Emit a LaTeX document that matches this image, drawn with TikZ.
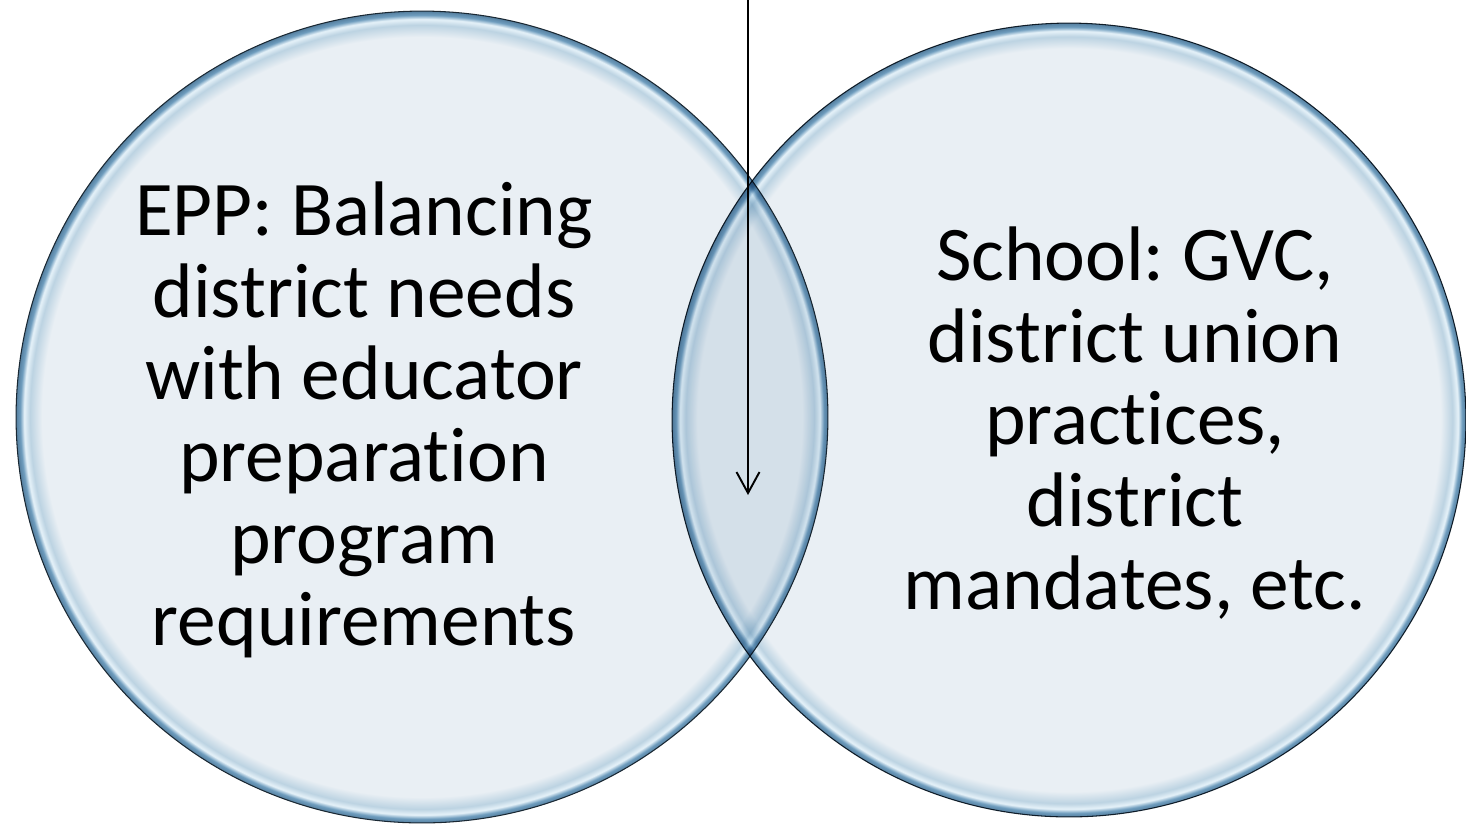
\documentclass[tikz,border=0pt]{standalone}
\usepackage{fontspec}
\setmainfont{Carlito}[Ligatures=NoCommon]
\frenchspacing
\usetikzlibrary{arrows.meta}
\definecolor{bubblefill}{HTML}{E9EFF4}
\definecolor{bubblerim}{HTML}{6F9DBE}
\definecolor{bubbleedge}{HTML}{557F9F}
\definecolor{bubblesoft}{HTML}{BCD3E2}
\definecolor{bubblehi}{HTML}{E6F2F9}
\definecolor{bubbleline}{HTML}{1A2833}
\pgfdeclareradialshading{bubble}{\pgfpoint{0bp}{0bp}}{color(0bp)=(bubblefill); color(23.4bp)=(bubblefill); color(24.15bp)=(bubblesoft); color(24.5bp)=(bubblehi); color(24.75bp)=(bubblerim); color(25bp)=(bubbleedge); color(50bp)=(bubbleedge)}

\begin{document}
\begin{tikzpicture}[x=0.02cm, y=-0.02cm,
	ring/.style={circle, draw=bubbleline, line width=0.6pt, shading=bubble, inner sep=0pt},
	label/.style={align=center, font=\fontsize{44}{46.7}\selectfont}]
	\useasboundingbox (0,0) rectangle (1466,823);
	\node[ring, minimum size=16.24cm] (epp) at (422,417) {};
	\begin{scope}[blend mode=multiply]
		\node[ring, minimum size=15.88cm] (school) at (1069,420) {};
	\end{scope}
	\node[label] (epptext) at (364,420) {EPP: Balancing\\district needs\\with educator\\preparation\\program\\requirements};
	\node[label] (schooltext) at (1135,423) {School: GVC,\\district union\\practices,\\district\\mandates, etc.};
	\coordinate (top) at (748,0);
	\coordinate (tip) at (748,495);
	\draw[-{Straight Barb[length=0.42cm, width=0.46cm]}, line width=1.1pt] (top) -- (tip);
\end{tikzpicture}
\end{document}
